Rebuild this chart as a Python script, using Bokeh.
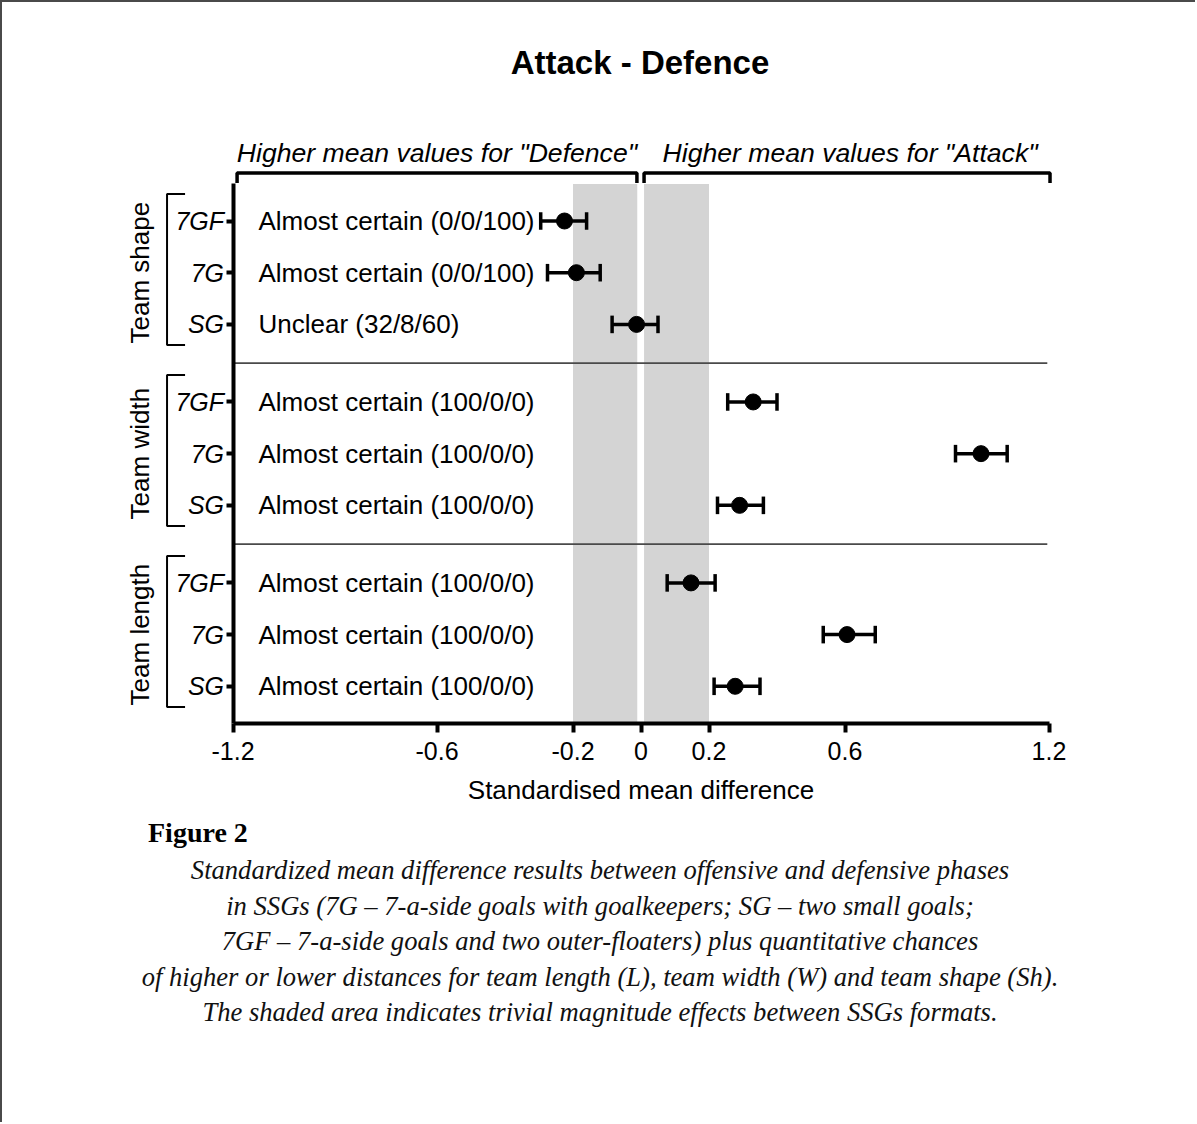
import numpy as np
from bokeh.plotting import figure
from bokeh.models import (Range1d, FixedTicker, CustomJSTickFormatter, Label,
                          PolyAnnotation, ColumnDataSource)
from bokeh.embed import file_html
from bokeh.resources import INLINE
from bokeh.core.properties import value

# ---------------- data ----------------
groups = ["Team shape", "Team width", "Team length"]
formats = ["7GF", "7G", "SG"]

shape_mean = [-0.225, -0.19, -0.013]
shape_lower = [-0.295, -0.275, -0.085]
shape_upper = [-0.16, -0.12, 0.05]
shape_inference = ["Almost certain (0/0/100)", "Almost certain (0/0/100)", "Unclear (32/8/60)"]

width_mean = [0.33, 1.0, 0.29]
width_lower = [0.255, 0.925, 0.225]
width_upper = [0.40, 1.077, 0.36]
width_inference = ["Almost certain (100/0/0)", "Almost certain (100/0/0)", "Almost certain (100/0/0)"]

length_mean = [0.147, 0.606, 0.277]
length_lower = [0.077, 0.536, 0.215]
length_upper = [0.218, 0.689, 0.35]
length_inference = ["Almost certain (100/0/0)", "Almost certain (100/0/0)", "Almost certain (100/0/0)"]

x_ticks = [-1.2, -0.6, -0.2, 0, 0.2, 0.6, 1.2]
trivial_low = -0.2
trivial_high = 0.2

title_text = "Attack - Defence"
side_left = 'Higher mean values for "Defence"'
side_right = 'Higher mean values for "Attack"'
x_label = "Standardised mean difference"
fig_label = "Figure 2"
caption_lines = [
    "Standardized mean difference results between offensive and defensive phases",
    "in SSGs (7G \u2013 7-a-side goals with goalkeepers; SG \u2013 two small goals;",
    "7GF \u2013 7-a-side goals and two outer-floaters) plus quantitative chances",
    "of higher or lower distances for team length (L), team width (W) and team shape (Sh).",
    "The shaded area indicates trivial magnitude effects between SSGs formats.",
]

# ---------------- layout helpers ----------------
GROUP_STEP = 3.5
means = shape_mean + width_mean + length_mean
lowers = shape_lower + width_lower + length_lower
uppers = shape_upper + width_upper + length_upper
inferences = shape_inference + width_inference + length_inference
ypos = [g * GROUP_STEP + r for g in range(len(groups)) for r in range(len(formats))]
ylabels = [f for g in groups for f in formats]
CAP = 0.17
Y_BOTTOM = 9.71      # row coordinate of the x axis line
Y_TOP = -0.735       # row coordinate of the top of the plotting area
X_MIN, X_MAX = -1.2, 1.2

src = ColumnDataSource(dict(
    y=ypos, mean=means, lo=lowers, hi=uppers, inf=inferences,
    ylo=[y - CAP for y in ypos], yhi=[y + CAP for y in ypos],
))

SANS = "Liberation Sans"
SERIF = "Liberation Serif"

W, H = 1195, 1122
ML, MB = 80, 52
# 340 px per x unit, 51.7 px per row
XPX, X0PX = 340.0, 638.5
YPX, Y0PX = 51.7, 218.5
x_range = Range1d((ML - X0PX) / XPX, (W - X0PX) / XPX)
y_range = Range1d((H - MB - Y0PX) / YPX, (0 - Y0PX) / YPX)

p = figure(width=W, height=H, x_range=x_range, y_range=y_range,
           output_backend="svg", toolbar_location=None,
           min_border_left=ML, min_border_right=0,
           min_border_top=0, min_border_bottom=MB)
p.outline_line_color = None
p.grid.visible = False
p.background_fill_color = "white"
p.border_fill_color = "white"
p.styles = {"border-top": "2px solid #4a4a4a", "border-left": "2px solid #4a4a4a"}

# trivial shaded area (with white gap at zero)
p.quad(left=[trivial_low, 0.009], right=[-0.011, trivial_high],
       top=[Y_TOP + 0.02] * 2, bottom=[Y_BOTTOM] * 2,
       fill_color="#d4d4d4", line_color=None)

# group separators
sep_y = [g * GROUP_STEP - 0.75 for g in range(1, len(groups))]
p.segment(x0=[X_MIN] * len(sep_y), x1=[1.195] * len(sep_y), y0=sep_y, y1=sep_y,
          line_color="#4a4a4a", line_width=1.8)

# error bars
p.segment(x0="lo", x1="hi", y0="y", y1="y", source=src, line_color="black", line_width=3.5)
p.segment(x0="lo", x1="lo", y0="ylo", y1="yhi", source=src, line_color="black", line_width=3.5)
p.segment(x0="hi", x1="hi", y0="ylo", y1="yhi", source=src, line_color="black", line_width=3.5)
p.scatter(x="mean", y="y", source=src, size=16, color="black")

# inference texts
p.text(x=-1.125, y="y", text="inf", source=src, text_font=value(SANS),
       text_font_size="26px", text_align="left", text_baseline="middle", text_color="black")

# axes (drawn at fixed data locations)
xa = p.xaxis[0]
xa.fixed_location = Y_BOTTOM
xa.bounds = (X_MIN, X_MAX)
xa.ticker = FixedTicker(ticks=x_ticks)
xa.formatter = CustomJSTickFormatter(code="return (Math.abs(tick) < 1e-9) ? '0' : tick.toFixed(1);")
xa.axis_line_width = 4
xa.major_tick_line_width = 4
xa.major_tick_out = 9
xa.major_tick_in = 0
xa.minor_tick_line_color = None
xa.major_label_text_font = SANS
xa.major_label_text_font_size = "25px"
xa.major_label_text_color = "black"
xa.major_label_standoff = 10

ya = p.yaxis[0]
ya.fixed_location = X_MIN
ya.bounds = (Y_TOP, Y_BOTTOM)
ya.ticker = FixedTicker(ticks=ypos)
ya.formatter = CustomJSTickFormatter(args=dict(pos=ypos, lab=ylabels), code="""
const i = pos.findIndex(v => Math.abs(v - tick) < 1e-6);
return i >= 0 ? lab[i] : '';
""")
ya.axis_line_width = 4
ya.major_tick_line_width = 4
ya.major_tick_out = 7
ya.major_tick_in = 0
ya.minor_tick_line_color = None
ya.major_label_text_font = SANS
ya.major_label_text_font_style = "italic"
ya.major_label_text_font_size = "25px"
ya.major_label_text_color = "black"
ya.major_label_standoff = 2

# x axis title
p.add_layout(Label(x=0.0, y=11.0, text=x_label, text_align="center", text_baseline="middle",
                   text_font=SANS, text_font_size="26px", text_color="black"))

# group brackets and rotated group labels (left of the axis)
for g, name in enumerate(groups):
    top = g * GROUP_STEP - 0.52
    bot = g * GROUP_STEP + 2.40
    xv, xarm = -1.394, -1.341
    p.add_layout(PolyAnnotation(xs=[xarm, xv, xv, xarm, xv, xv], ys=[top, top, bot, bot, bot, top],
                                fill_alpha=0, line_color="black", line_alpha=1.0, line_width=2))
    p.add_layout(Label(x=-1.4735, y=g * GROUP_STEP + 1, text=name, angle=np.pi / 2,
                       text_align="center", text_baseline="middle", text_font=SANS,
                       text_font_size="26px", text_color="black"))

# top brackets
BR_TOP, BR_END = -0.93, -0.735
for x0, x1 in [(-1.188, -0.012), (0.009, 1.203)]:
    p.add_layout(PolyAnnotation(xs=[x0, x0, x1, x1, x1, x0],
                                ys=[BR_END, BR_TOP, BR_TOP, BR_END, BR_TOP, BR_TOP],
                                fill_alpha=0, line_color="black", line_alpha=1.0, line_width=3.5))
p.add_layout(Label(x=-0.6, y=-1.315, text=side_left, text_align="center", text_baseline="middle",
                   text_font=SANS, text_font_style="italic", text_font_size="26.6px", text_color="black"))
p.add_layout(Label(x=0.615, y=-1.315, text=side_right, text_align="center", text_baseline="middle",
                   text_font=SANS, text_font_style="italic", text_font_size="26.6px", text_color="black"))

# title
p.add_layout(Label(x=-0.003, y=-3.075, text=title_text, text_align="center", text_baseline="middle",
                   text_font=SANS, text_font_style="bold", text_font_size="33px", text_color="black"))

# caption
p.add_layout(Label(x=-1.45, y=11.82, text=fig_label, text_align="left", text_baseline="middle",
                   text_font=SERIF, text_font_style="bold", text_font_size="28px", text_color="black"))
for i, line in enumerate(caption_lines):
    p.add_layout(Label(x=-0.1206, y=12.553 + i * 0.687, text=line, text_align="center",
                       text_baseline="middle", text_font=SERIF, text_font_style="italic",
                       text_font_size="26.6px", text_color="#111111"))

open("out.html", "w").write(file_html(p, INLINE))
